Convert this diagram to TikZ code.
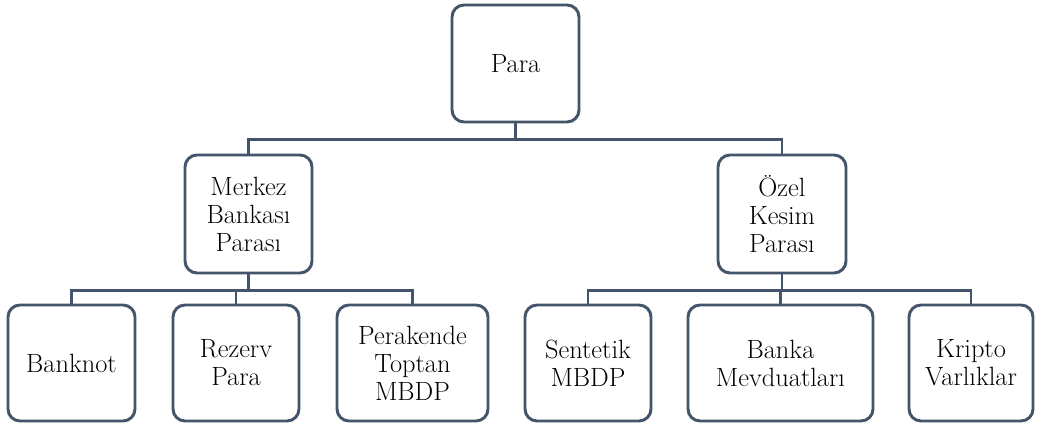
\documentclass[tikz,border=0pt]{standalone}
\usepackage{fontspec}
\definecolor{lc}{HTML}{44546A}
\begin{document}
\begin{tikzpicture}[x=0.75pt,y=-0.75pt,
  box/.style={draw=lc, line width=2.2pt, rounded corners=9pt, fill=white,
    inner sep=0pt, align=center, minimum height=87.75pt,
    font=\rmfamily\fontsize{19.8}{21}\selectfont},
  conn/.style={draw=lc, line width=1.7pt}]
\useasboundingbox (0,0) rectangle (1037,423);
\node[box, minimum width=95.25pt] (para) at (515.5,63.5) {Para};
\node[box, minimum width=95.25pt, minimum height=88.5pt] (merkez) at (248.5,214) {Merkez\\Bankası\\Parası};
\node[box, minimum width=96pt, minimum height=88.5pt] (ozel) at (782,214) {Özel\\Kesim\\Parası};
\node[box, minimum width=95.25pt, minimum height=87pt] (banknot) at (71.5,363) {Banknot};
\node[box, minimum width=94.5pt, minimum height=87pt] (rezerv) at (236,363) {Rezerv\\Para};
\node[box, minimum width=113.25pt, minimum height=87pt] (perakende) at (412.5,363) {Perakende\\Toptan\\MBDP};
\node[box, minimum width=94.5pt, minimum height=87pt] (sentetik) at (588,363) {Sentetik\\MBDP};
\node[box, minimum width=138.75pt, minimum height=87pt] (banka) at (780.5,363) {Banka\\Mevduatları};
\node[box, minimum width=93pt, minimum height=87pt] (kripto) at (971,363) {Kripto\\Varlıklar};
\draw[conn] (para.south) -- ++(0,16) -| (merkez.north);
\draw[conn] (para.south) -- ++(0,16) -| (ozel.north);
\draw[conn] (merkez.south) -- ++(0,16) -| (banknot.north);
\draw[conn] (merkez.south) -- ++(0,16) -| (rezerv.north);
\draw[conn] (merkez.south) -- ++(0,16) -| (perakende.north);
\draw[conn] (ozel.south) -- ++(0,16) -| (sentetik.north);
\draw[conn] (ozel.south) -- ++(0,16) -| (banka.north);
\draw[conn] (ozel.south) -- ++(0,16) -| (kripto.north);
\end{tikzpicture}
\end{document}
